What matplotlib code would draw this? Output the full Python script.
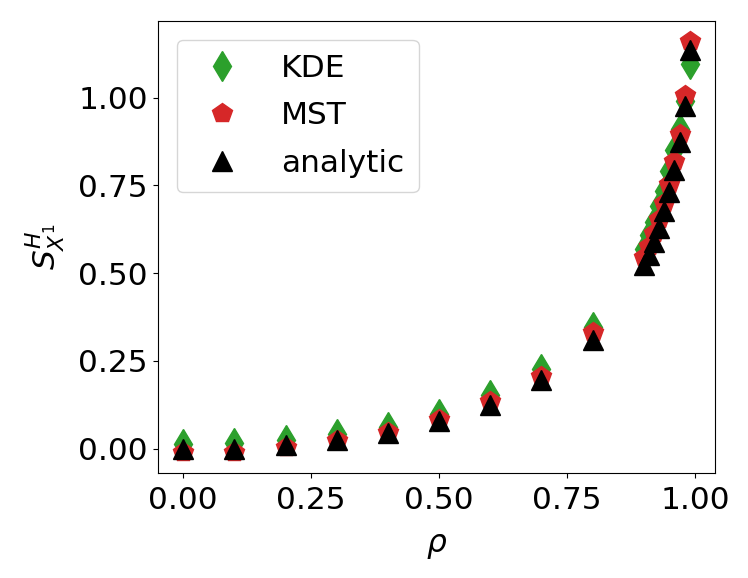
import numpy as np
import matplotlib
matplotlib.use("Agg")
import matplotlib.pyplot as plt

rho = [0.0, 0.1, 0.2, 0.3, 0.4, 0.5, 0.6, 0.7, 0.8,
       0.90, 0.91, 0.92, 0.93, 0.94, 0.95, 0.96, 0.97, 0.98, 0.99]
kde = [0.014, 0.017, 0.024, 0.041, 0.063, 0.099, 0.153, 0.228, 0.348,
       0.57, 0.61, 0.645, 0.69, 0.735, 0.79, 0.85, 0.91, 0.99, 1.095]
mst = [-0.01, -0.008, 0.006, 0.024, 0.048, 0.084, 0.136, 0.207, 0.333,
       0.545, 0.578, 0.613, 0.653, 0.70, 0.755, 0.82, 0.897, 1.007, 1.16]
analytic = [0.0, 0.0, 0.011, 0.025, 0.046, 0.079, 0.125, 0.196, 0.31,
            0.522, 0.553, 0.589, 0.629, 0.677, 0.730, 0.793, 0.873, 0.976, 1.134]

plt.rcParams["font.size"] = 22.5

fig = plt.figure(figsize=(7.48, 5.78), dpi=100)
ax = fig.add_axes([0.211, 0.182, 0.745, 0.782])

ms = 15
ax.plot(rho, kde, "d", color="#2ca02c", ms=ms, label="KDE")
ax.plot(rho, mst, "p", color="#d62728", ms=ms, label="MST")
ax.plot(rho, analytic, "^", color="black", ms=ms, label="analytic")

ax.set_xticks([0.0, 0.25, 0.5, 0.75, 1.0])
ax.set_yticks([0.0, 0.25, 0.5, 0.75, 1.0])
ax.xaxis.set_major_formatter(matplotlib.ticker.FormatStrFormatter("%.2f"))
ax.yaxis.set_major_formatter(matplotlib.ticker.FormatStrFormatter("%.2f"))
ax.tick_params(axis="x", pad=6)
ax.set_xlabel(r"$\rho$", labelpad=12)
ax.set_ylabel(r"$S^H_{X^1}$", labelpad=8)
ax.legend(loc="upper left", fontsize=22.5, handletextpad=0.9,
          borderpad=0.45, borderaxespad=0.6, labelspacing=0.6)

fig.savefig("out.png", dpi=100)
